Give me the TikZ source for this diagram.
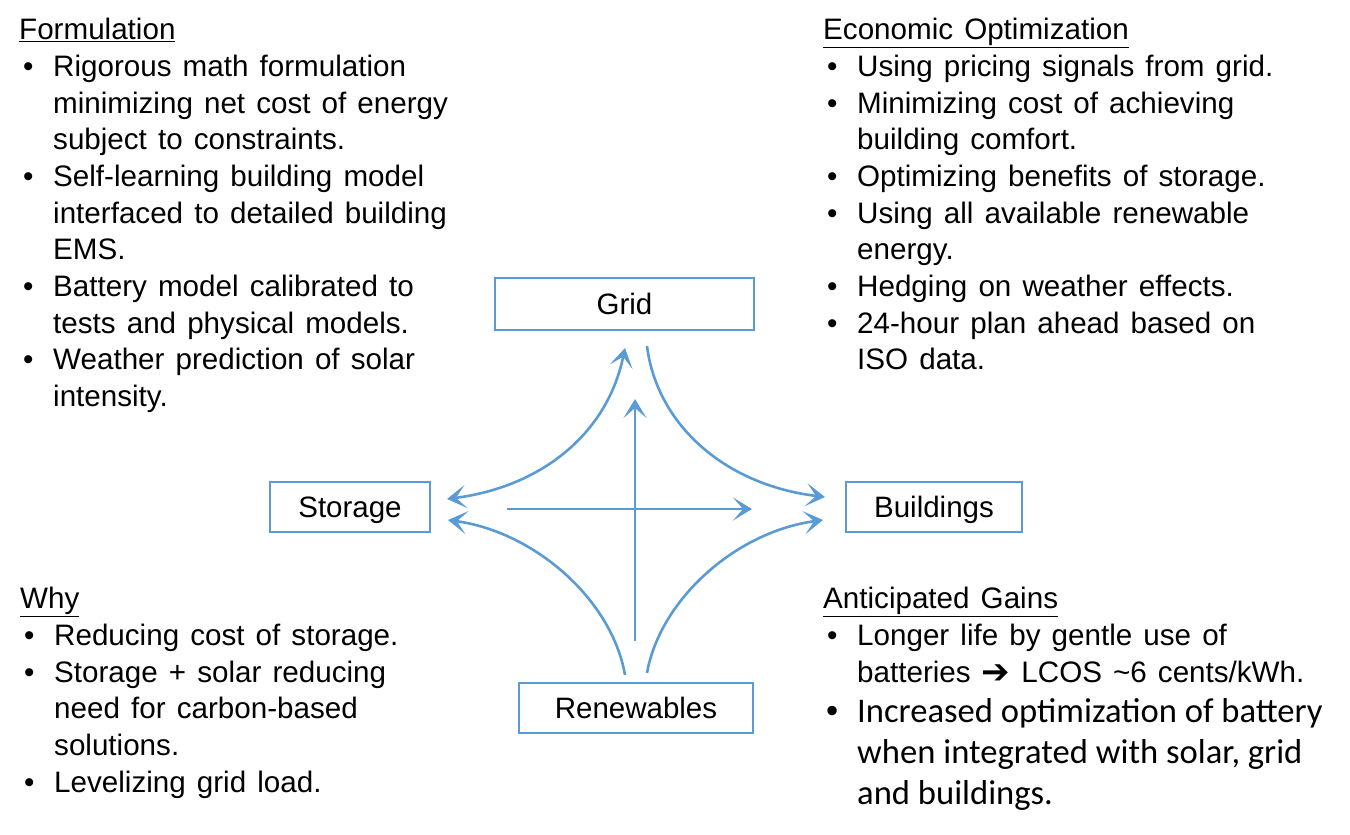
\documentclass[tikz,border=0pt]{standalone}
\usepackage{fontspec}
\setmainfont[WordSpace=1.35]{Liberation Sans}
\newfontfamily\carl{Carlito}
\newfontfamily\dejav{DejaVu Sans}
\newfontfamily\bulletfont{Liberation Sans}
\usetikzlibrary{arrows.meta}
\definecolor{ppblue}{HTML}{5B9BD5}
\newcommand{\bl}[1]{\makebox[34pt][l]{\hspace{4pt}•}#1}
\newcommand{\blb}[1]{\makebox[34pt][l]{\hspace{3pt}\bulletfont •}#1}
\newcommand{\ct}[1]{\hspace*{34pt}#1}
\tikzset{
  x=1pt,y=-1pt,
  boxnode/.style={draw=ppblue,line width=1.6pt,minimum height=52pt,inner sep=0pt,text height=25pt,text depth=4pt,font=\fontsize{29.5}{32}\selectfont,text=black},
  txt/.style={anchor=north west,inner sep=0pt,align=left,font=\fontsize{29.6}{36.7}\selectfont,text=black},
  link/.style={draw=ppblue,line width=2.6pt,-{Stealth[length=19pt,width=23pt,inset=10pt]}},
  biglink/.style={draw=ppblue,line width=2.6pt,{Stealth[length=19pt,width=23pt,inset=10pt]}-{Stealth[length=19pt,width=23pt,inset=10pt]}}
}
\begin{document}
\begin{tikzpicture}
\useasboundingbox (0,0) rectangle (1350,835);
\node[boxnode,minimum width=259pt] (grid) at (624.5,304) {Grid};
\node[boxnode,minimum width=160pt,minimum height=50pt] (storage) at (350,507) {Storage};
\node[boxnode,minimum width=176pt,minimum height=50pt] (buildings) at (934,507) {Buildings};
\node[boxnode,minimum width=234pt,minimum height=50pt] (renew) at (636,708) {Renewables};

\coordinate (c1) at (447,499);
\coordinate (c2) at (625,348);
\coordinate (c3) at (647,346);
\coordinate (c4) at (825,497);
\coordinate (c5) at (625,675);
\coordinate (c6) at (448,520);
\coordinate (c7) at (647,673);
\coordinate (c8) at (823,520);
\coordinate (v1) at (635,641);
\coordinate (v2) at (635,399);
\coordinate (h1) at (507,509);
\coordinate (h2) at (752,509);

\draw[biglink] (c1) .. controls (540,487) and (607,435) .. (c2);
\draw[link] (c3) .. controls (657,425) and (725,485) .. (c4);
\draw[link] (c5) .. controls (612,600) and (535,532) .. (c6);
\draw[link] (c7) .. controls (660,600) and (735,532) .. (c8);
\draw[link] (v1) -- (v2);
\draw[link] (h1) -- (h2);

\node[txt] (formulation) at (19,18) {\underline{Formulation}\\
\bl{Rigorous math formulation}\\
\ct{minimizing net cost of energy}\\
\ct{subject to constraints.}\\
\bl{Self-learning building model}\\
\ct{interfaced to detailed building}\\
\ct{EMS.}\\
\bl{Battery model calibrated to}\\
\ct{tests and physical models.}\\
\bl{Weather prediction of solar}\\
\ct{intensity.}};

\node[txt] (econ) at (823,18) {\underline{Economic Optimization}\\
\bl{Using pricing signals from grid.}\\
\bl{Minimizing cost of achieving}\\
\ct{building comfort.}\\
\bl{Optimizing benefits of storage.}\\
\bl{Using all available renewable}\\
\ct{energy.}\\
\bl{Hedging on weather effects.}\\
\bl{24-hour plan ahead based on}\\
\ct{ISO data.}};

\node[txt] (why) at (20,587) {\underline{Why}\\
\bl{Reducing cost of storage.}\\
\bl{Storage + solar reducing}\\
\ct{need for carbon-based}\\
\ct{solutions.}\\
\bl{Levelizing grid load.}};

\node[txt] (gains) at (823,587) {\underline{Anticipated Gains}\\
\bl{Longer life by gentle use of}\\
\ct{batteries {\dejav\fontsize{34}{36.7}\selectfont\raisebox{-1pt}{➔}} LCOS \textasciitilde 6 cents/kWh.}};

\node[txt,font=\fontsize{34.6}{41}\carl\selectfont] (gains2) at (823,698) {\blb{Increased optimization of battery}\\
\ct{when integrated with solar, grid}\\
\ct{and buildings.}};
\end{tikzpicture}
\end{document}
